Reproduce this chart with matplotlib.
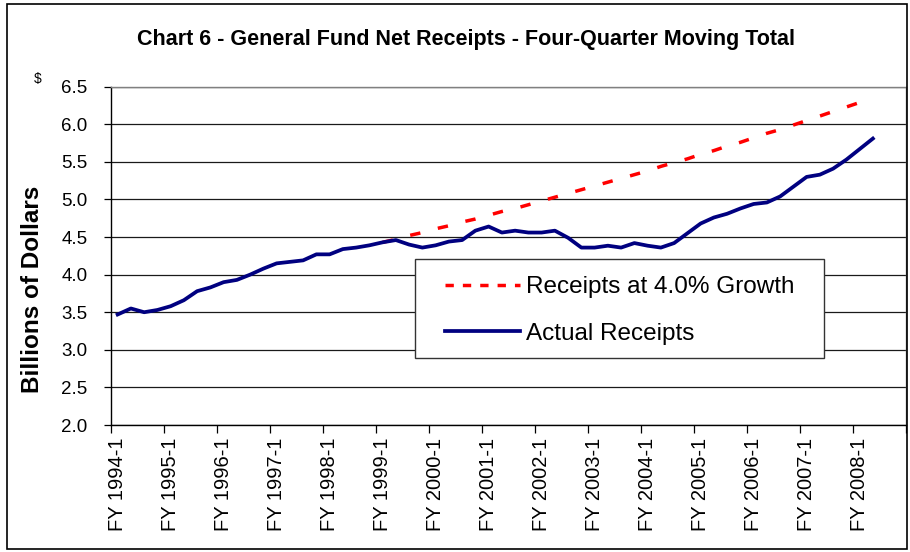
import numpy as np
import matplotlib.pyplot as plt
from matplotlib.patches import Rectangle
from matplotlib.lines import Line2D

plt.rcParams['font.family'] = ['Liberation Sans', 'DejaVu Sans']

# Categorias trimestrales FY 1994-1 ... FY 2008-4
years = list(range(1994, 2009))
quarters = [f'FY {y}-{q}' for y in years for q in range(1, 5)]

# Ingresos reales (miles de millones), FY 1994-1 a FY 2008-2
actual = [3.47, 3.55, 3.50, 3.53, 3.58, 3.66, 3.78, 3.83, 3.90, 3.93,
          4.00, 4.08, 4.15, 4.17, 4.19, 4.27, 4.27, 4.34, 4.36, 4.39,
          4.43, 4.46, 4.40, 4.36, 4.39, 4.44, 4.46, 4.585, 4.64, 4.56,
          4.585, 4.56, 4.56, 4.585, 4.49, 4.36, 4.36, 4.385, 4.36, 4.42,
          4.385, 4.36, 4.42, 4.55, 4.68, 4.76, 4.81, 4.88, 4.94, 4.96,
          5.04, 5.17, 5.30, 5.33, 5.41, 5.53, 5.67, 5.81]

# Ingresos con crecimiento del 4.0%, FY 1999-1 a FY 2008-1
growth_start = 'FY 1999-1'
growth = [4.43, 4.47, 4.52, 4.56, 4.61, 4.65, 4.70, 4.74, 4.79, 4.84,
          4.88, 4.93, 4.98, 5.03, 5.08, 5.13, 5.18, 5.23, 5.28, 5.33,
          5.38, 5.44, 5.49, 5.54, 5.60, 5.65, 5.71, 5.76, 5.82, 5.88,
          5.93, 5.99, 6.05, 6.11, 6.17, 6.23, 6.29]

yticks = [2.0, 2.5, 3.0, 3.5, 4.0, 4.5, 5.0, 5.5, 6.0, 6.5]

n = len(quarters)
x = np.arange(n)
y_act = np.full(n, np.nan)
y_act[:len(actual)] = actual
y_gr = np.full(n, np.nan)
i0 = quarters.index(growth_start)
y_gr[i0:i0 + len(growth)] = growth

W, H = 910, 552
fig = plt.figure(figsize=(W / 100, H / 100), dpi=100)
ax = fig.add_axes([111 / W, 1 - 425 / H, (906 - 111) / W, (425 - 86.7) / H])

ax.plot(x, y_gr, color='#ff0000', lw=2.5, dashes=(3.0, 5.2), zorder=3)
ax.plot(x, y_act, color='#000080', lw=2.7, zorder=4)

ax.set_ylim(2.0, 6.5)
ax.set_yticks(yticks)
ax.set_yticklabels([f'{v:.1f}' for v in yticks], fontsize=13.5)
ax.grid(axis='y', color='#1a1a1a', lw=0.9)
ax.set_axisbelow(True)
ax.tick_params(axis='y', length=5, width=0.9, pad=12)

ax.set_xlim(-0.5, n - 0.5)
ax.set_xticks(np.arange(-0.5, n, 4))
ax.set_xticklabels([])
ax.set_xticks(np.arange(0, n, 4), minor=True)
ax.set_xticklabels(quarters[::4], minor=True, rotation=90, fontsize=14.5)
ax.tick_params(axis='x', which='major', length=6, width=0.9)
ax.tick_params(axis='x', which='minor', length=0, pad=9)

for s in ['left', 'bottom']:
    ax.spines[s].set_color('black')
    ax.spines[s].set_linewidth(1.0)
for s in ['right', 'top']:
    ax.spines[s].set_color('#808080')
    ax.spines[s].set_linewidth(1.0)

# Caja de leyenda
fig.patches.append(Rectangle((415 / W, 1 - 358 / H), (824 - 415) / W, (358 - 259) / H,
                             transform=fig.transFigure, facecolor='white',
                             edgecolor='#333333', lw=1.0, zorder=5))
handles = [Line2D([], [], color='#ff0000', lw=2.5, dashes=(2.4, 2.6)),
           Line2D([], [], color='#000080', lw=2.7)]
fig.legend(handles, ['Receipts at 4.0% Growth', 'Actual Receipts'],
           loc='upper left', bbox_to_anchor=(445 / W, 1 - 276 / H),
           frameon=False, fontsize=17.5, handlelength=3.1, handletextpad=0.25,
           labelspacing=1.02, borderpad=0, borderaxespad=0)

fig.text(466 / W, 1 - 40 / H,
         'Chart 6 - General Fund Net Receipts - Four-Quarter Moving Total',
         ha='center', va='center', fontsize=15.5, fontweight='bold')
fig.text(38 / W, 1 - 79 / H, '$', ha='center', va='center', fontsize=10)
fig.text(33 / W, 1 - 289 / H, 'Billions of Dollars', rotation=90,
         ha='center', va='center', fontsize=17.5, fontweight='bold')

# Marco exterior
fig.patches.append(Rectangle((7 / W, 1 - 549 / H), 900 / W, 545 / H,
                             transform=fig.transFigure, fill=False,
                             edgecolor='black', lw=1.2))

fig.savefig('out.png', dpi=100)
